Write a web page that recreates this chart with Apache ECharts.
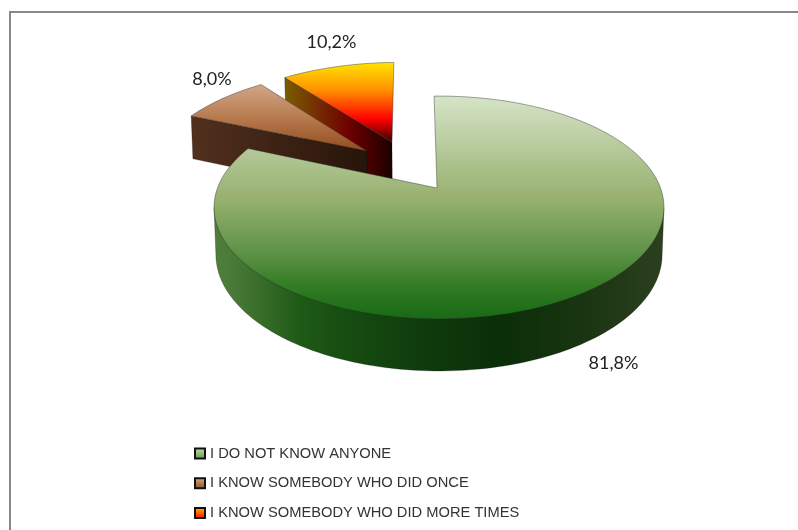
<!DOCTYPE html>
<html><head><meta charset="utf-8">
<style>html,body{margin:0;padding:0;background:#fff}#c{width:798px;height:530px}</style>
<script src="https://cdn.jsdelivr.net/npm/echarts@6/dist/echarts.min.js"></script>
</head><body><div id="c"></div>
<script>
const categories = ['I DO NOT KNOW ANYONE', 'I KNOW SOMEBODY WHO DID ONCE', 'I KNOW SOMEBODY WHO DID MORE TIMES'];
const values = [81.8, 8.0, 10.2];

// slice offsets on the unit disc (explosion), apex nudge, extrusion depth, label anchors, paint order
const explode = [[0, 0], [-0.346, -0.3645], [-0.2295, -0.46]];
const apexNudge = [-0.009, 0, 0];
const depth = [1, 1, 1.2];
const showCutFace = [false, true, true];
const showRim = [true, false, false];
const labelAt = [[613.5, 363], [212, 79], [331.5, 42]];
const zOrder = [3, 2, 1];
const startDeg = -1.5;

// perspective projection of the pie
const P = {x0: 439, y0: 188, A: 221.5, B: 108, B2: 105.8, k: 0.175, H: 46.6, m: 0.008};
function proj(u, v, h) {
  const w = 1 - P.k * v + P.m * h;
  return [P.x0 + P.A * u / w, P.y0 + ((P.B + (P.B2 - P.B) * h) * v + P.H * h) / w];
}
const total = values.reduce((a, b) => a + b, 0);
function range(i) {
  let s = 0;
  for (let j = 0; j < i; j++) s += values[j];
  return [startDeg + s / total * 360, startDeg + (s + values[i]) / total * 360];
}
function rimPt(i, deg, h) {
  const t = deg * Math.PI / 180, e = explode[i];
  return proj(Math.sin(t) + e[0], -Math.cos(t) + e[1], h);
}
function arc(i, h) {
  const [a, b] = range(i), n = Math.ceil((b - a) / 1.5), out = [];
  for (let q = 0; q <= n; q++) out.push(rimPt(i, a + (b - a) * q / n, h));
  return out;
}
function extreme(pts, sign) {
  let best = 0;
  pts.forEach((p, q) => { if (sign * p[0] > sign * pts[best][0]) best = q; });
  return best;
}
function lin(x1, y1, x2, y2, stops) {
  return {type: 'linear', global: true, x: x1, y: y1, x2: x2, y2: y2,
    colorStops: stops.map(s => ({offset: s[0], color: s[1]}))};
}
const topFill = [
  lin(0, 95, 0, 318, [[0, '#d6e4c8'], [0.47, '#96b06e'], [0.7, '#5f9348'], [0.87, '#2f7a22'], [1, '#1a6a16']]),
  lin(0, 82, 0, 151, [[0, '#d4aa8c'], [0.5, '#b87c50'], [1, '#924c1e']]),
  lin(0, 61, 0, 142, [[0, '#ffe800'], [0.35, '#ff9400'], [0.72, '#ff0000'], [1, '#3a0000']])
];
const sideFill = [
  lin(214, 0, 665, 0, [[0, '#4f7f3c'], [0.04, '#4a7a38'], [0.19, '#1f5a16'], [0.28, '#174e12'], [0.46, '#0f3c0c'], [0.64, '#0a2e08'], [0.85, '#1d3614'], [1, '#2c4020']]),
  lin(191, 0, 367, 0, [[0, '#52301e'], [1, '#27140a']]),
  lin(283, 0, 392, 0, [[0, '#7a6000'], [0.6, '#700000'], [1, '#1c0000']])
];
const iconFill = [
  lin(0, 0, 0, 1, [[0, '#c8dab0'], [1, '#5f9a48']]),
  lin(0, 0, 0, 1, [[0, '#d4aa8c'], [1, '#924c1e']]),
  lin(0, 0, 0, 1, [[0, '#ffc000'], [1, '#ff0000']])
];
iconFill.forEach(f => f.global = false);

function sliceItem(i) {
  return function () {
    const [a] = range(i), e = explode[i], d = depth[i];
    const apexT = proj(e[0], e[1], 0), apexB = proj(e[0], e[1], d);
    const children = [];
    if (showRim[i]) {
      // lower outline of the cylinder between its left and right tangents; the top face hides the rest
      const up = arc(i, 0), lo = arc(i, d);
      const pts = [up[extreme(up, 1)]]
        .concat(lo.slice(extreme(lo, 1), extreme(lo, -1) + 1))
        .concat([up[extreme(up, -1)]]);
      children.push({type: 'polygon', shape: {points: pts},
        style: {fill: sideFill[i], stroke: 'rgba(0,0,0,0.35)', lineWidth: 0.7}});
    }
    if (showCutFace[i]) {
      children.push({type: 'polygon', shape: {points: [apexT, rimPt(i, a, 0), rimPt(i, a, d), apexB]},
        style: {fill: sideFill[i], stroke: 'rgba(0,0,0,0.4)', lineWidth: 0.6}});
    }
    const tip = proj(e[0] + apexNudge[i], e[1], 0);
    children.push(
      {type: 'polygon', shape: {points: [tip].concat(arc(i, 0))},
        style: {fill: topFill[i], stroke: 'rgba(40,40,40,0.6)', lineWidth: 0.7}},
      {type: 'text', style: {text: values[i].toFixed(1).replace('.', ',') + '%',
        x: labelAt[i][0], y: labelAt[i][1], textAlign: 'center', textVerticalAlign: 'middle',
        font: '18px Lato', fill: '#222'}}
    );
    return {type: 'group', children: children};
  };
}

const chart = echarts.init(document.getElementById('c'));
chart.setOption({
  animation: false,
  backgroundColor: '#fff',
  graphic: [{type: 'rect', shape: {x: 10, y: 12, width: 900, height: 700}, silent: true,
    style: {fill: 'none', stroke: '#888', lineWidth: 2}}],
  legend: {
    orient: 'vertical', left: 189, top: 441, itemWidth: 10, itemHeight: 10, itemGap: 14.8,
    selectedMode: false,
    textStyle: {fontFamily: 'Liberation Sans', fontSize: 14.7, color: '#333', padding: [0, 0, 0, 0]},
    data: categories.map((n, i) => ({name: n, icon: 'rect',
      itemStyle: {color: iconFill[i], borderColor: '#111', borderWidth: 2}}))
  },
  series: categories.map((n, i) => ({
    type: 'custom', name: n, coordinateSystem: 'none', z: zOrder[i],
    itemStyle: {color: iconFill[i]}, silent: true,
    data: [[values[i]]], renderItem: sliceItem(i)
  }))
});
</script></body></html>
